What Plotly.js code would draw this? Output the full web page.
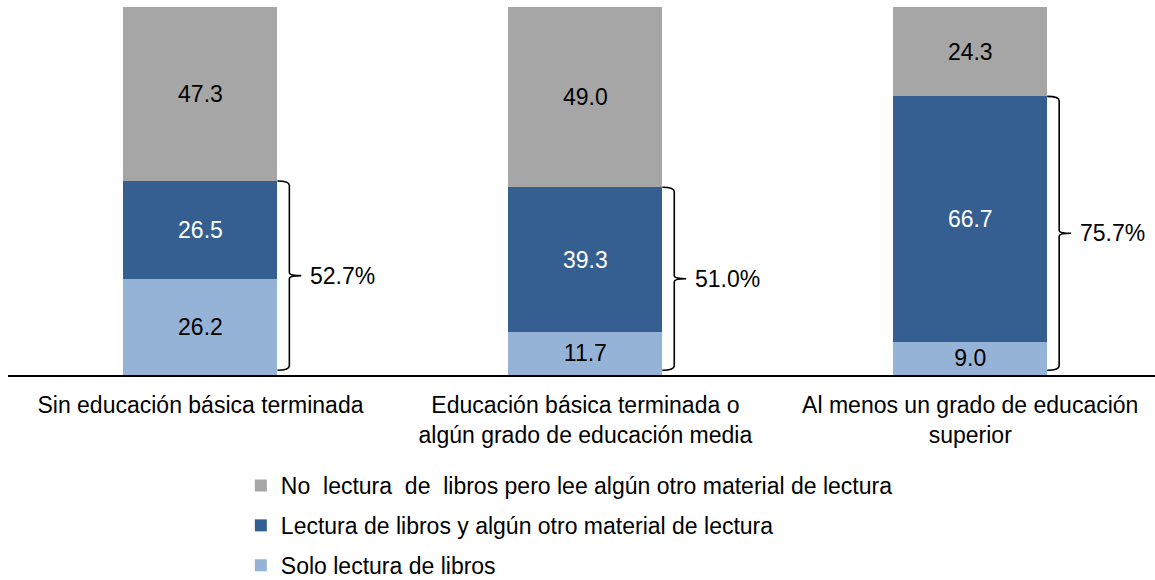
<!DOCTYPE html>
<html>
<head>
<meta charset="utf-8">
<script src="https://cdn.plot.ly/plotly-3.0.1.min.js"></script>
<style>html,body{margin:0;padding:0;background:#fff;}#chart{width:1155px;height:580px;}</style>
</head>
<body>
<div id="chart"></div>
<script>
var categories = [
  "Sin educación básica terminada",
  "Educación básica terminada o<br>algún grado de educación media",
  "Al menos un grado de educación<br>superior"
];
var seriesNames = [
  "Solo lectura de libros",
  "Lectura de libros y algún otro material de lectura",
  "No \u00a0lectura \u00a0de \u00a0libros pero lee algún otro material de lectura"
];
var soloLibros = [26.2, 11.7, 9.0];
var librosYOtro = [26.5, 39.3, 66.7];
var noLibros = [47.3, 49.0, 24.3];

var colors = ["#95B3D7", "#365F91", "#A6A6A6"];
var textColors = ["#000000", "#FFFFFF", "#000000"];
var FONT = "Arial, 'Liberation Sans', sans-serif";
var xIdx = categories.map(function (c, i) { return i; });
var seriesVals = [soloLibros, librosYOtro, noLibros];

var traces = seriesVals.map(function (vals, k) {
  return {
    type: "bar",
    name: seriesNames[k],
    legendgroup: "g" + k,
    legendrank: 3 - k,
    x: xIdx,
    y: vals,
    width: 0.4,
    marker: { color: colors[k], line: { width: 0 } },
    text: vals.map(function (v) { return v.toFixed(1); }),
    texttemplate: "%{text}",
    textposition: "inside",
    insidetextanchor: "middle",
    textangle: 0,
    constraintext: "none",
    textfont: { family: FONT, size: 23, color: textColors[k] },
    hoverinfo: "skip"
  };
});

var shapes = [];
var annotations = [];
xIdx.forEach(function (i) {
  var top = soloLibros[i] + librosYOtro[i];
  var bot = 1.3;
  var mid = (top + bot) / 2;
  var xe = i + 0.2, xv = i + 0.231, xt = i + 0.262;
  var r = 1.2, rm = 0.8;
  var p = "M" + xe + "," + top +
    " Q" + xv + "," + top + " " + xv + "," + (top - r) +
    " L" + xv + "," + (mid + rm) +
    " Q" + xv + "," + mid + " " + xt + "," + mid +
    " Q" + xv + "," + mid + " " + xv + "," + (mid - rm) +
    " L" + xv + "," + (bot + r) +
    " Q" + xv + "," + bot + " " + xe + "," + bot;
  shapes.push({ type: "path", xref: "x", yref: "y", path: p, line: { color: "#000", width: 1.6 } });
  annotations.push({
    xref: "x", yref: "y", x: i + 0.28, y: mid, xanchor: "left", yanchor: "middle",
    text: top.toFixed(1) + "%", showarrow: false,
    font: { family: FONT, size: 23, color: "#000" }
  });
});

var layout = {
  width: 1155, height: 580,
  margin: { l: 8, r: 0, t: 7, b: 205, autoexpand: false },
  paper_bgcolor: "#fff", plot_bgcolor: "#fff",
  barmode: "stack",
  font: { family: FONT, size: 23, color: "#000" },
  xaxis: {
    range: [-0.5, 2.48], tickvals: xIdx, ticktext: categories,
    showgrid: false, zeroline: false, showline: true, linecolor: "#000", linewidth: 1.5,
    ticks: "", ticklabelstandoff: 9, automargin: false,
    tickfont: { family: FONT, size: 23, color: "#000" }, fixedrange: true
  },
  yaxis: { range: [0, 100], visible: false, fixedrange: true },
  showlegend: true,
  legend: {
    orientation: "v", x: 0.203, xanchor: "left",
    yref: "container", y: 0.2, yanchor: "top",
    traceorder: "grouped", tracegroupgap: 7,
    font: { family: FONT, size: 23, color: "#000" }, bgcolor: "rgba(0,0,0,0)"
  },
  shapes: shapes,
  annotations: annotations
};

Plotly.newPlot("chart", traces, layout, { displayModeBar: false, staticPlot: true });
</script>
</body>
</html>
